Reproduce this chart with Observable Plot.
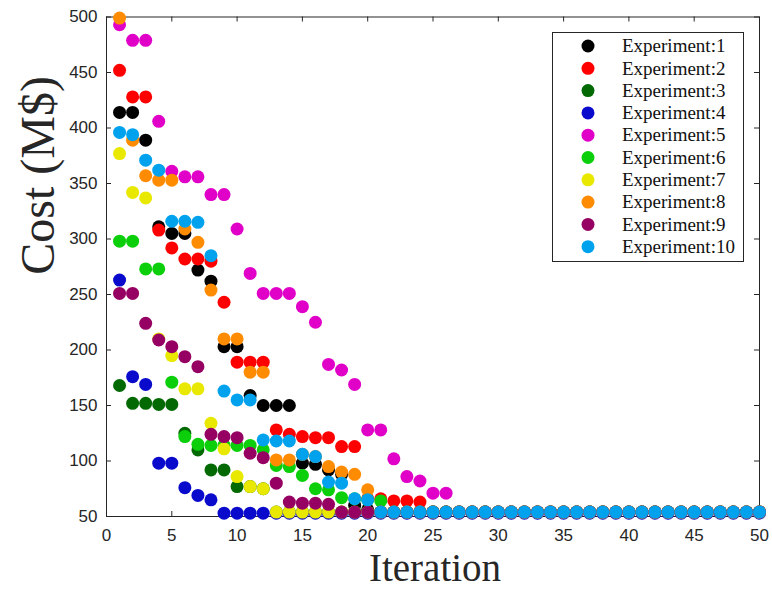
<!DOCTYPE html>
<html>
<head>
<meta charset="utf-8">
<script src="https://cdn.jsdelivr.net/npm/d3@7"></script>
<script src="https://cdn.jsdelivr.net/npm/@observablehq/plot@0.6"></script>
<style>
  html, body { margin: 0; padding: 0; background: #fff; }
  #chart { width: 772px; height: 592px; }
</style>
</head>
<body>
<div id="chart"></div>
<script>
const iterations = [1,2,3,4,5,6,7,8,9,10,11,12,13,14,15,16,17,18,19,20,21,22,23,24,25,
  26,27,28,29,30,31,32,33,34,35,36,37,38,39,40,41,42,43,44,45,46,47,48,49,50];

const names = ["Experiment:1","Experiment:2","Experiment:3","Experiment:4","Experiment:5",
  "Experiment:6","Experiment:7","Experiment:8","Experiment:9","Experiment:10"];
const colors = ["#000000","#ff0000","#036a03","#0a0acc","#e000c8",
  "#0bcf0b","#e8e800","#ff8c00","#960062","#00a2ee"];

const exp1 = [414,414,389,311,305,305,272,262,203,203,159,150,150,150,98,97,92,88,60,56,
  54,54,54,54,54,54,54,54,54,54,54,54,54,54,54,54,54,54,54,54,54,54,54,54,54,54,54,54,54,54];
const exp2 = [452,428,428,308,292,282,282,280,243,189,189,189,128,124,122,121,121,113,113,66,
  66,64,64,63,54,54,54,54,54,54,54,54,54,54,54,54,54,54,54,54,54,54,54,54,54,54,54,54,54,54];
const exp3 = [168,152,152,151,151,125,110,92,92,77,77,75,54,54,54,54,54,54,54,54,
  54,54,54,54,54,54,54,54,54,54,54,54,54,54,54,54,54,54,54,54,54,54,54,54,54,54,54,54,54,54];
const exp4 = [263,176,169,98,98,76,69,65,53,53,53,53,53,53,53,53,53,53,53,53,
  53,53,53,53,53,53,53,53,53,53,53,53,53,53,53,53,53,53,53,53,53,53,53,53,53,53,53,53,53,53];
const exp5 = [493,479,479,406,361,356,356,340,340,309,269,251,251,251,239,225,187,182,169,128,
  128,102,86,82,71,71,54,54,54,54,54,54,54,54,54,54,54,54,54,54,54,54,54,54,54,54,54,54,54,54];
const exp6 = [298,298,273,273,171,122,115,114,114,114,114,110,96,95,87,75,74,67,66,65,
  64,54,54,54,54,54,54,54,54,54,54,54,54,54,54,54,54,54,54,54,54,54,54,54,54,54,54,54,54,54];
const exp7 = [377,342,337,210,195,165,165,134,111,86,77,75,54,54,54,54,54,54,54,54,
  54,54,54,54,54,54,54,54,54,54,54,54,54,54,54,54,54,54,54,54,54,54,54,54,54,54,54,54,54,54];
const exp8 = [499,389,357,353,353,309,297,254,210,210,180,180,101,101,106,104,95,90,88,74,
  54,54,54,54,54,54,54,54,54,54,54,54,54,54,54,54,54,54,54,54,54,54,54,54,54,54,54,54,54,54];
const exp9 = [251,251,224,209,203,194,185,124,122,121,107,103,80,63,62,62,61,54,54,54,
  54,54,54,54,54,54,54,54,54,54,54,54,54,54,54,54,54,54,54,54,54,54,54,54,54,54,54,54,54,54];
const exp10 = [396,394,371,362,316,316,315,285,163,155,155,119,118,118,106,104,81,80,66,65,
  54,54,54,54,54,54,54,54,54,54,54,54,54,54,54,54,54,54,54,54,54,54,54,54,54,54,54,54,54,54];

const xTicks = [0,5,10,15,20,25,30,35,40,45,50];
const yTicks = [50,100,150,200,250,300,350,400,450,500];

const series = [exp1,exp2,exp3,exp4,exp5,exp6,exp7,exp8,exp9,exp10];
const rows = series.flatMap((vals, k) => vals.map((v, i) => ({iter: iterations[i], cost: v, exp: names[k]})));

const W = 772, H = 592;
const mL = 106, mR = 13, mT = 16.5, mB = 76;
const innerW = W - mL - mR, innerH = H - mT - mB;
const axisColor = "#262626";
const tickFont = "'Liberation Sans', Arial, Helvetica, sans-serif";
const serif = "'Liberation Serif', 'Times New Roman', serif";

const svg = Plot.plot({
  width: W, height: H,
  marginLeft: mL, marginRight: mR, marginTop: mT, marginBottom: mB,
  style: {background: "#fff", overflow: "visible"},
  x: {domain: [0, 50]},
  y: {domain: [50, 500]},
  color: {domain: names, range: colors},
  marks: [
    Plot.frame({stroke: axisColor, strokeWidth: 1}),
    Plot.tickX(xTicks, {x: d => d, stroke: axisColor, insetTop: innerH - 5}),
    Plot.tickX(xTicks, {x: d => d, stroke: axisColor, insetBottom: innerH - 5}),
    Plot.tickY(yTicks, {y: d => d, stroke: axisColor, insetRight: innerW - 5}),
    Plot.tickY(yTicks, {y: d => d, stroke: axisColor, insetLeft: innerW - 5}),
    Plot.axisX(xTicks, {tickSize: 0, tickPadding: 12, label: null, fontSize: 17, fill: axisColor, fontFamily: tickFont}),
    Plot.axisY(yTicks, {tickSize: 0, tickPadding: 9, label: null, fontSize: 17, fill: axisColor, fontFamily: tickFont}),
    Plot.dot(rows, {x: "iter", y: "cost", fill: "exp", r: 6.5, stroke: null}),
    Plot.text(["Iteration"], {frameAnchor: "bottom", dy: 52, dx: 2, lineAnchor: "middle", fontSize: 39, fontFamily: serif, fill: axisColor}),
    Plot.text(["Cost (M$)"], {frameAnchor: "left", dx: -68, dy: 8, rotate: -90, lineAnchor: "middle", fontSize: 48, fontFamily: serif, fill: axisColor})
  ]
});

// legend inside the axes (top-right)
const lg = d3.select(svg).append("g").attr("class", "legend").attr("text-anchor", "start");
lg.append("rect").attr("x", 552.5).attr("y", 32.5).attr("width", 191).attr("height", 229)
  .attr("fill", "#fff").attr("stroke", axisColor).attr("stroke-width", 1);
names.forEach((n, i) => {
  const cy = 46 + 22.3 * i;
  lg.append("circle").attr("cx", 588).attr("cy", cy).attr("r", 6.5).attr("fill", colors[i]);
  lg.append("text").attr("x", 622).attr("y", cy).attr("dy", "0.33em")
    .attr("text-anchor", "start")
    .attr("font-family", serif).attr("font-size", 19).attr("fill", "#111").text(n);
});

document.getElementById("chart").appendChild(svg);
</script>
</body>
</html>
